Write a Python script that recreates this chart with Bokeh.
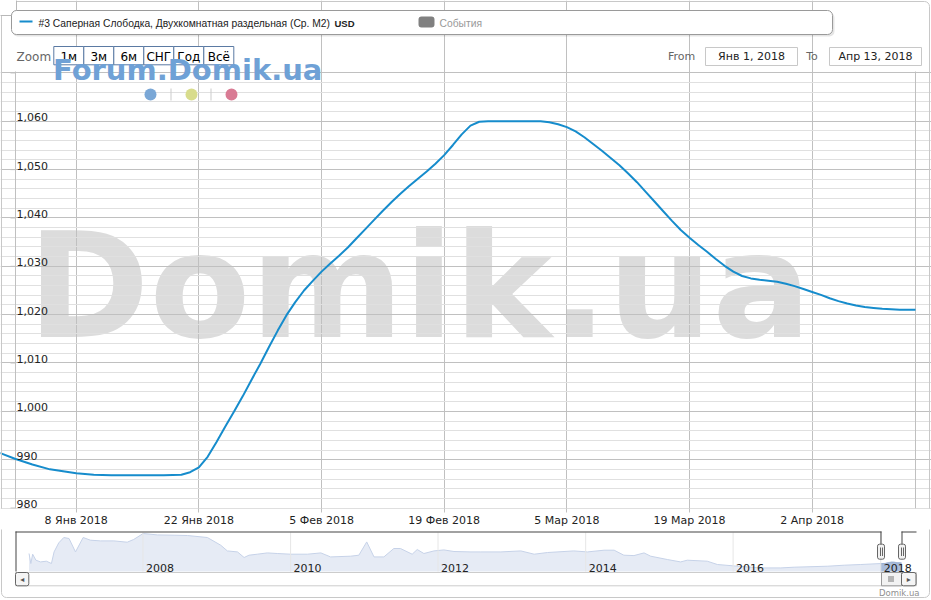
import pandas as pd
from bokeh.plotting import figure
from bokeh.models import Range1d, FixedTicker, Label, BoxAnnotation, ColumnDataSource
from bokeh.layouts import column
from bokeh.core.properties import value
from bokeh.embed import file_html
from bokeh.resources import INLINE

# ---------------- data ----------------
series_name = "#3 Саперная Слободка, Двухкомнатная раздельная (Ср. М2)"
series_unit = "USD"

series_dates = [
    "2017-12-30", "2018-01-01", "2018-01-03", "2018-01-05", "2018-01-08", "2018-01-10",
    "2018-01-12", "2018-01-15", "2018-01-18", "2018-01-20", "2018-01-21", "2018-01-22",
    "2018-01-23", "2018-01-24", "2018-01-25", "2018-01-26", "2018-01-27", "2018-01-28",
    "2018-01-29", "2018-01-30", "2018-01-31", "2018-02-01", "2018-02-02", "2018-02-03",
    "2018-02-04", "2018-02-05", "2018-02-06", "2018-02-07", "2018-02-08", "2018-02-09",
    "2018-02-10", "2018-02-11", "2018-02-12", "2018-02-13", "2018-02-14", "2018-02-15",
    "2018-02-16", "2018-02-17", "2018-02-18", "2018-02-19", "2018-02-20", "2018-02-21",
    "2018-02-22", "2018-02-23", "2018-02-24", "2018-02-27", "2018-03-02", "2018-03-03",
    "2018-03-04", "2018-03-05", "2018-03-06", "2018-03-07", "2018-03-08", "2018-03-09",
    "2018-03-10", "2018-03-11", "2018-03-12", "2018-03-13", "2018-03-14", "2018-03-15",
    "2018-03-16", "2018-03-17", "2018-03-18", "2018-03-19", "2018-03-20", "2018-03-21",
    "2018-03-22", "2018-03-23", "2018-03-24", "2018-03-25", "2018-03-26", "2018-03-27",
    "2018-03-28", "2018-03-29", "2018-03-30", "2018-03-31", "2018-04-01", "2018-04-02",
    "2018-04-03", "2018-04-04", "2018-04-05", "2018-04-06", "2018-04-07", "2018-04-08",
    "2018-04-09", "2018-04-10", "2018-04-11", "2018-04-12", "2018-04-13", "2018-04-13T19:00",
]
series_values = [
    991.6, 990.2, 989.0, 988.0, 987.2, 986.9,
    986.8, 986.8, 986.8, 986.9, 987.4, 988.4,
    990.6, 993.6, 996.8, 999.9, 1003.1, 1006.5,
    1009.8, 1013.3, 1016.7, 1019.9, 1022.6, 1025.0,
    1027.0, 1028.9, 1030.6, 1032.2, 1033.9, 1035.8,
    1037.7, 1039.6, 1041.5, 1043.3, 1045.0, 1046.6,
    1048.1, 1049.6, 1051.2, 1053.0, 1055.1, 1057.3,
    1059.1, 1059.9, 1060.0, 1060.0, 1060.0, 1059.8,
    1059.4, 1058.8, 1057.9, 1056.7, 1055.3, 1053.9,
    1052.4, 1050.9, 1049.2, 1047.4, 1045.4, 1043.4,
    1041.4, 1039.4, 1037.5, 1035.9, 1034.4, 1033.0,
    1031.5, 1030.1, 1028.9, 1028.0, 1027.5, 1027.2,
    1027.0, 1026.8, 1026.4, 1025.9, 1025.3, 1024.7,
    1024.1, 1023.4, 1022.8, 1022.3, 1021.9, 1021.6,
    1021.4, 1021.2, 1021.1, 1021.0, 1021.0, 1021.0,
]

view_start = "2018-01-01T01:40"
view_end = "2018-04-13T19:00"
y_min, y_max = 979.9, 1070.3

x_tick_dates = ["2018-01-08", "2018-01-22", "2018-02-05", "2018-02-19",
                "2018-03-05", "2018-03-19", "2018-04-02"]
x_tick_labels = ["8 Янв 2018", "22 Янв 2018", "5 Фев 2018", "19 Фев 2018",
                 "5 Мар 2018", "19 Мар 2018", "2 Апр 2018"]

y_grid_values = [980, 990, 1000, 1010, 1020, 1030, 1040, 1050, 1060, 1070]
y_label_values = [980, 990, 1000, 1010, 1020, 1030, 1040, 1050, 1060]
y_tick_labels = ["980", "990", "1,000", "1,010", "1,020", "1,030", "1,040", "1,050", "1,060"]
y_minor_values = [v + d for v in y_grid_values[:-1] for d in (2, 4, 6, 8)]

zoom_buttons = ["1м", "3м", "6м", "СНГ", "Год", "Всё"]
from_text = "Янв 1, 2018"
to_text = "Апр 13, 2018"

# navigator (whole history)
nav_dates = [
    "2006-06-16", "2006-06-25", "2006-07-04", "2006-07-20", "2006-08-12", "2006-09-10",
    "2006-10-05", "2006-10-18", "2006-11-10", "2006-12-05", "2006-12-31", "2007-02-01",
    "2007-03-11", "2007-04-16", "2007-06-05", "2007-08-10", "2007-10-15", "2007-11-16",
    "2008-01-02", "2008-03-13", "2008-06-03", "2008-08-08", "2008-11-15", "2009-01-20",
    "2009-02-22", "2009-04-13", "2009-05-16", "2009-06-09", "2009-07-20", "2009-09-08",
    "2009-10-27", "2010-01-01", "2010-03-25", "2010-05-31", "2010-07-18", "2010-10-25",
    "2010-12-05", "2011-01-13", "2011-02-18", "2011-04-08", "2011-05-27", "2011-06-29",
    "2011-08-26", "2011-09-20", "2011-10-23", "2011-12-12", "2012-01-30", "2012-03-20",
    "2012-06-12", "2012-07-31", "2012-11-07", "2013-02-14", "2013-04-21", "2013-06-26",
    "2013-11-03", "2014-01-10", "2014-04-02", "2014-05-22", "2014-07-09", "2014-08-28",
    "2014-10-17", "2014-11-19", "2015-02-09", "2015-04-16", "2015-05-19", "2015-08-26",
    "2015-10-15", "2016-01-06", "2016-03-12", "2016-05-18", "2016-08-24", "2016-10-29",
    "2017-04-14", "2017-07-04", "2017-09-24", "2018-01-01", "2018-04-13",
]
nav_values = [
    1482, 992, 1448, 1154, 1070, 1105,
    992, 1560, 2001, 2266, 2217, 1560,
    2266, 2134, 2100, 2100, 2036, 2168,
    2462, 2393, 2379, 2364, 2266, 1889,
    1609, 1560, 1286, 1399, 1448, 1511,
    1482, 1448, 1448, 1511, 1315, 1350,
    1399, 2050, 1315, 1315, 1727, 1727,
    1448, 1678, 1482, 1609, 1658, 1580,
    1560, 1560, 1560, 1609, 1448, 1530,
    1609, 1560, 1644, 1644, 1399, 1380,
    1511, 1350, 1188, 1070, 1154, 1105,
    943, 874, 825, 776, 776, 811,
    860, 909, 943, 990, 1021,
]
nav_start = "2006-04-10"
nav_end = "2018-06-22"
nav_ymin, nav_ymax = 600, 2511
nav_tick_dates = ["2008-01-01", "2010-01-01", "2012-01-01", "2014-01-01", "2016-01-01", "2018-01-01"]
nav_tick_labels = ["2008", "2010", "2012", "2014", "2016", "2018"]

# ---------------- layout / styles ----------------
W = 931
MAIN_H = 529
NAV_H = 71
CH_L, CH_R, CH_T, CH_B = 15, 915, 71, 508      # chart area in main canvas px
NV_L, NV_R, NV_T, NV_B = 15, 915, 3, 42        # navigator area in nav canvas px
Y_TICK_LEN = 5                                  # px

LINE_COLOR = "#168ccc"
GRID = "#c0c0c0"
FONT = "DejaVu Sans"
LEG_FONT = "Liberation Sans"


def dt(v):
    return pd.to_datetime(v, format="ISO8601")


def ms(d):
    return int(pd.Timestamp(d).value // 10**6)


def full_ranges(x0, x1, y0, y1, l, r, t, b, frame_w, frame_h):
    """Ranges for a frame of frame_w x frame_h px in which [x0,x1]x[y0,y1] occupies l..r, t..b."""
    x0, x1 = pd.Timestamp(x0), pd.Timestamp(x1)
    dx = (x1 - x0) / (r - l)
    dy = (y1 - y0) / (b - t)
    return (Range1d(x0 - dx * l, x1 + dx * (frame_w - r)),
            Range1d(y0 - dy * (frame_h - b), y1 + dy * t))


def box(fig, l, r, t, b, fill="#ffffff", line=None, lw=1, radius=0, alpha=1.0, level="annotation"):
    fig.add_layout(BoxAnnotation(
        left=l, right=r, top=t, bottom=b,
        left_units="canvas", right_units="canvas", top_units="canvas", bottom_units="canvas",
        fill_color=fill, fill_alpha=alpha if fill else 0.0,
        line_color=line, line_width=lw, line_alpha=1.0 if line else 0.0,
        border_radius=int(round(radius)), level=level))


def label(fig, x, y, text, size="11px", color="#222222", align="left",
          font=FONT, style="normal", level="annotation"):
    fig.add_layout(Label(
        x=x, y=y, x_units="canvas", y_units="canvas", text=text,
        text_font=font, text_font_size=size, text_color=color, text_font_style=style,
        text_align=align, text_baseline="middle", level=level))


# ---------------- main chart ----------------
src = ColumnDataSource(dict(date=dt(series_dates), value=series_values))
# the frame covers the whole width and the height down to the chart bottom
xr, yr = full_ranges(view_start, view_end, y_min, y_max, CH_L, CH_R, CH_T, CH_B, W, CH_B)

p = figure(width=W, height=MAIN_H, x_axis_type="datetime", y_axis_location=None,
           x_range=xr, y_range=yr, output_backend="svg", toolbar_location=None,
           min_border=0, min_border_bottom=MAIN_H - CH_B)
p.background_fill_color = "#ffffff"
p.border_fill_color = "#ffffff"
p.outline_line_color = None

xt = [ms(d) for d in x_tick_dates]
p.xaxis.ticker = FixedTicker(ticks=xt)
p.xaxis.major_label_overrides = {k: v for k, v in zip(xt, x_tick_labels)}
p.xaxis.major_label_text_font = FONT
p.xaxis.major_label_text_font_size = "11px"
p.xaxis.major_label_text_color = "#222222"
p.xaxis.major_label_standoff = 1
p.xaxis.major_tick_out = 4
p.xaxis.major_tick_in = 0
p.xaxis.minor_tick_out = 0
p.xaxis.minor_tick_in = 0
p.xaxis.axis_line_color = None
p.xaxis.major_tick_line_color = GRID

p.xgrid.ticker = FixedTicker(ticks=xt)
p.xgrid.grid_line_color = GRID
p.xgrid.bounds = (y_min, y_max)
p.ygrid.ticker = FixedTicker(ticks=y_grid_values, minor_ticks=y_minor_values)
p.ygrid.grid_line_color = GRID
p.ygrid.minor_grid_line_color = "#e0e0e0"
p.ygrid.bounds = (ms(view_start), ms(view_end))

# chart side borders
p.segment(x0=dt([view_start, view_end]), y0=[y_min, y_min],
          x1=dt([view_start, view_end]), y1=[y_max, y_max],
          line_color=GRID, line_width=1)

# small y tick marks left of the chart border
px_time = (pd.Timestamp(view_end) - pd.Timestamp(view_start)) / (CH_R - CH_L)
tick_x0 = pd.Timestamp(view_start) - px_time * Y_TICK_LEN
p.segment(x0=[tick_x0] * len(y_grid_values), y0=y_grid_values,
          x1=dt([view_start] * len(y_grid_values)), y1=y_grid_values,
          line_color=GRID, line_width=1)

# outer container + corner widget
box(p, 1, 929, 1, 600, fill=None, line="#c8c8c8", radius=5)
box(p, -4, 16, -4, 15, fill="#ffffff", line="#b8b8b8", radius=4)

# big watermark behind the grid
label(p, 27, 286, "Domik.ua", size="147px", color="#dcdcdc", style="bold", level="image")

p.line(x="date", y="value", source=src, line_color=LINE_COLOR, line_width=2)

# y labels inside the plot area
p.text(x=dt([view_start] * len(y_label_values)), y=y_label_values, text=y_tick_labels,
       text_font=value(FONT), text_font_size="11px", text_color="#222222",
       text_align="left", text_baseline="bottom", x_offset=1)

# legend
box(p, 12, 834, 12, 36, fill="#000000", alpha=0.10, radius=5)
box(p, 11, 832, 10, 34, fill="#ffffff", line="#9a9a9a", radius=5)
box(p, 19, 32, 20, 22, fill=LINE_COLOR)
label(p, 38, 22.6, series_name, size="10.3px", color="#222222", font=LEG_FONT)
label(p, 334, 22.6, series_unit, size="9.5px", color="#222222", font=LEG_FONT, style="bold")
box(p, 418, 434, 16, 27, fill="#808080", radius=3)
label(p, 439, 22.6, "События", size="10.3px", color="#999999", font=LEG_FONT)

# range selector
label(p, 16, 56.6, "Zoom", size="12px", color="#666666")
edges = [53.3, 83.3, 113.3, 143.3, 173.3, 203.3, 233.3]
for i, t in enumerate(zoom_buttons):
    box(p, edges[i], edges[i + 1], 46, 64.3, fill="#ffffff", line="#5b7aa3")
for i, t in enumerate(zoom_buttons):
    label(p, (edges[i] + edges[i + 1]) / 2, 56, t, size="12px", color="#000000", align="center")

label(p, 667.5, 56.3, "From", size="11px", color="#666666")
box(p, 705, 797, 47, 65, fill="#ffffff", line="#c8c8c8")
label(p, 751, 56.3, from_text, size="11px", color="#222222", align="center")
label(p, 805.7, 56.3, "To", size="11px", color="#666666")
box(p, 829, 921, 47, 65, fill="#ffffff", line="#c8c8c8")
label(p, 875, 56.3, to_text, size="11px", color="#222222", align="center")

# forum watermark + dots
label(p, 52.5, 69.6, "Forum.Domik.ua", size="29px", color="#6fa1d6", style="bold")
box(p, 144, 156, 88, 100, fill="#7aa7d6", radius=6)
box(p, 185, 197, 88, 100, fill="#d8dc8c", radius=6)
box(p, 225, 237, 88, 100, fill="#d97b94", radius=6)
box(p, 170, 171, 88, 100, fill="#cccccc")
box(p, 210, 211, 88, 100, fill="#cccccc")

# ---------------- navigator ----------------
nxr, nyr = full_ranges(nav_start, nav_end, nav_ymin, nav_ymax, NV_L, NV_R, NV_T, NV_B, W, NAV_H)
n = figure(width=W, height=NAV_H, x_axis_type="datetime",
           x_axis_location=None, y_axis_location=None,
           x_range=nxr, y_range=nyr, output_backend="svg", toolbar_location=None,
           min_border=0)
n.background_fill_color = "#ffffff"
n.border_fill_color = "#ffffff"
n.outline_line_color = None
n.xgrid.visible = False
n.ygrid.visible = False

nav_src = ColumnDataSource(dict(date=dt(nav_dates), value=nav_values))
n.varea(x="date", y1=nav_ymin, y2="value", source=nav_src, fill_color="#e6ebf5")
n.line(x="date", y="value", source=nav_src, line_color="#c6d2e8", line_width=1)
n.varea(x="date", y1=nav_ymin, y2="value", source=src, fill_color="#a9bcda")
n.line(x="date", y="value", source=src, line_color="#8fa6cc", line_width=1)

ntd = dt(nav_tick_dates)
n.segment(x0=ntd, y0=[nav_ymin] * len(ntd), x1=ntd, y1=[nav_ymax] * len(ntd),
          line_color="#e6e6e6", line_width=1)
n.text(x=ntd, y=[nav_ymin] * len(ntd), text=nav_tick_labels,
       text_font=value(FONT), text_font_size="11px", text_color="#222222",
       text_align="left", text_baseline="alphabetic", x_offset=3, y_offset=-4)

# outer container (continued)
box(n, 1, 929, -40, 68, fill=None, line="#c8c8c8", radius=5)

# navigator outline + handles
box(n, 15, 881, 2, 3, fill="#444444")
box(n, 901, 916, 2, 3, fill="#444444")
box(n, 15, 16, 2, 42, fill="#444444")
box(n, 880, 881, 2, 15, fill="#444444")
box(n, 901, 902, 2, 15, fill="#444444")
for hl in (877, 898):
    box(n, hl, hl + 7, 14.7, 29.7, fill="#f2f2f2", line="#666666", radius=2)
    box(n, hl + 2.5, hl + 3.5, 18, 26.5, fill="#666666")
    box(n, hl + 4.5, hl + 5.5, 18, 26.5, fill="#666666")

# scrollbar
box(n, 15, 916, 43, 56.3, fill="#ffffff", line="#cccccc")
box(n, 15, 28.3, 43, 56.3, fill="#f5f5f5", line="#666666", radius=2)
label(n, 21.7, 49.7, "◂", size="8px", color="#555555", align="center")
box(n, 881, 901, 43, 56.3, fill="#f2f2f2", line="#999999")
for gx in (888, 890, 892):
    box(n, gx, gx + 1, 46.5, 52.5, fill="#777777")
box(n, 901, 915.5, 43, 56.3, fill="#f5f5f5", line="#666666", radius=2)
label(n, 908.3, 49.7, "▸", size="8px", color="#555555", align="center")

label(n, 919, 63.3, "Domik.ua", size="8.5px", color="#909090", align="right")

layout = column(p, n, spacing=0)
open("out.html", "w").write(file_html(layout, INLINE))
